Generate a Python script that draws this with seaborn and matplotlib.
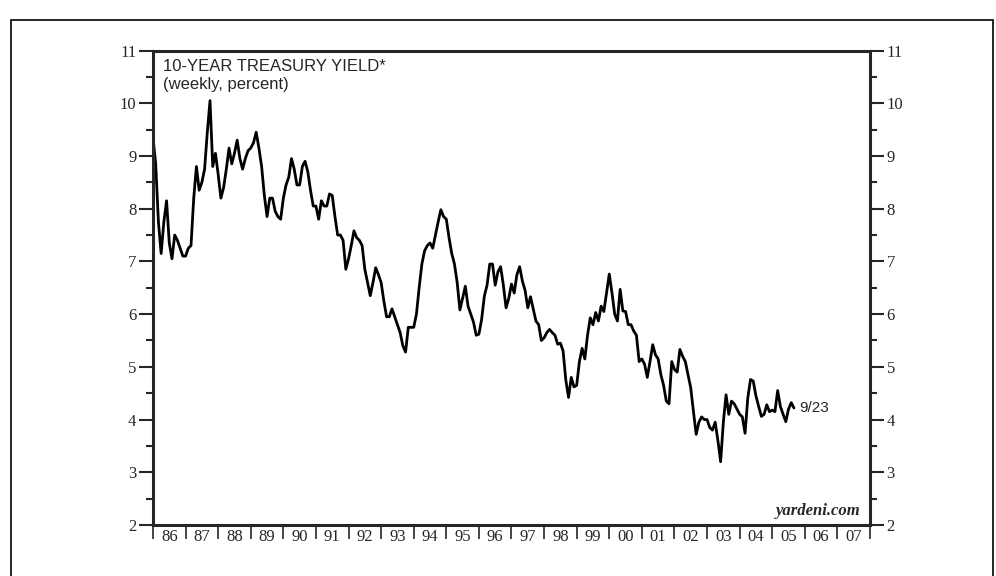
import numpy as np
import pandas as pd
import matplotlib
matplotlib.use("Agg")
import matplotlib.pyplot as plt
from matplotlib.patches import Rectangle
import seaborn as sns

sns.set_style("ticks")

# ----------------------------------------------------------------
# DATA: 10-year treasury yield (one value per month)
# ----------------------------------------------------------------
y1986 = [9.35, 8.85, 7.75, 7.15, 7.75, 8.15, 7.35, 7.05, 7.50, 7.40, 7.25, 7.10]
y1987 = [7.10, 7.25, 7.30, 8.20, 8.80, 8.35, 8.50, 8.75, 9.45, 10.05, 8.80, 9.05]
y1988 = [8.65, 8.20, 8.40, 8.75, 9.15, 8.85, 9.05, 9.30, 8.95, 8.75, 8.95, 9.10]
y1989 = [9.15, 9.25, 9.45, 9.15, 8.80, 8.25, 7.85, 8.20, 8.20, 7.95, 7.85, 7.80]
y1990 = [8.20, 8.45, 8.60, 8.95, 8.75, 8.45, 8.45, 8.80, 8.90, 8.70, 8.35, 8.05]
y1991 = [8.05, 7.80, 8.15, 8.05, 8.05, 8.28, 8.25, 7.85, 7.50, 7.50, 7.40, 6.85]
y1992 = [7.05, 7.30, 7.58, 7.45, 7.40, 7.30, 6.85, 6.60, 6.35, 6.60, 6.88, 6.75]
y1993 = [6.60, 6.25, 5.95, 5.95, 6.10, 5.95, 5.80, 5.65, 5.40, 5.28, 5.75, 5.75]
y1994 = [5.75, 6.00, 6.50, 6.95, 7.20, 7.30, 7.35, 7.25, 7.50, 7.75, 7.98, 7.85]
y1995 = [7.80, 7.45, 7.15, 6.95, 6.60, 6.08, 6.30, 6.53, 6.15, 6.00, 5.85, 5.60]
y1996 = [5.62, 5.90, 6.34, 6.55, 6.95, 6.95, 6.55, 6.80, 6.90, 6.55, 6.12, 6.30]
y1997 = [6.57, 6.40, 6.75, 6.90, 6.63, 6.45, 6.12, 6.33, 6.10, 5.87, 5.80, 5.50]
y1998 = [5.55, 5.65, 5.71, 5.65, 5.60, 5.43, 5.45, 5.30, 4.75, 4.42, 4.80, 4.62]
y1999 = [4.65, 5.10, 5.35, 5.15, 5.60, 5.93, 5.80, 6.03, 5.87, 6.15, 6.05, 6.40]
y2000 = [6.76, 6.40, 6.00, 5.87, 6.47, 6.06, 6.05, 5.80, 5.80, 5.68, 5.60, 5.10]
y2001 = [5.15, 5.05, 4.80, 5.10, 5.42, 5.23, 5.15, 4.85, 4.65, 4.35, 4.30, 5.10]
y2002 = [4.95, 4.90, 5.33, 5.20, 5.10, 4.85, 4.60, 4.15, 3.72, 3.95, 4.05, 4.00]
y2003 = [4.00, 3.85, 3.80, 3.95, 3.60, 3.20, 3.95, 4.47, 4.10, 4.35, 4.30, 4.20]
y2004 = [4.10, 4.05, 3.74, 4.41, 4.76, 4.73, 4.45, 4.25, 4.06, 4.10, 4.28, 4.15]
y2005 = [4.18, 4.15, 4.55, 4.25, 4.10, 3.96, 4.20, 4.32, 4.22]

start_year = 1986
year_labels = ["86", "87", "88", "89", "90", "91", "92", "93", "94", "95", "96",
               "97", "98", "99", "00", "01", "02", "03", "04", "05", "06", "07"]
y_ticks = [2, 3, 4, 5, 6, 7, 8, 9, 10, 11]

yields = (y1986 + y1987 + y1988 + y1989 + y1990 + y1991 + y1992 + y1993 + y1994
          + y1995 + y1996 + y1997 + y1998 + y1999 + y2000 + y2001 + y2002 + y2003
          + y2004 + y2005)
df = pd.DataFrame({"Yield": yields})
df["Year"] = start_year + np.arange(len(df)) / 12.0

# ----------------------------------------------------------------
# PLOT
# ----------------------------------------------------------------
fig = plt.figure(figsize=(9.96, 5.76), dpi=100)
ax = fig.add_axes([0.1536, 0.0885, 0.7199, 0.8238])

sns.lineplot(data=df, x="Year", y="Yield", ax=ax, color="black", linewidth=2.0)

ax.set_xlim(1986, 2008)
ax.set_ylim(2, 11)
ax.set_xlabel("")
ax.set_ylabel("")

for side in ["left", "right", "top", "bottom"]:
    ax.spines[side].set_visible(True)
    ax.spines[side].set_linewidth(2.2)

# y axis: labels on both sides, half-point minor ticks
ax.set_yticks(y_ticks)
ax.set_yticks(np.arange(2.5, 11, 1.0), minor=True)
ax.tick_params(axis="y", which="major", direction="out", length=10, width=1.5,
               left=True, right=True, labelleft=True, labelright=True, pad=2,
               labelsize=12)
ax.tick_params(axis="y", which="minor", direction="out", length=5, width=1.5,
               left=True, right=True)

# x axis: year boundary ticks, labels centered in each year
ax.set_xticks(np.arange(1986, 2009))
ax.set_xticklabels([])
ax.set_xticks(np.arange(1986.5, 2008, 1.0), minor=True)
ax.set_xticklabels(year_labels, minor=True)
ax.tick_params(axis="x", which="major", direction="out", length=10, width=1.2)
ax.tick_params(axis="x", which="minor", length=0, pad=3, labelsize=12)

for lbl in ax.get_yticklabels() + ax.get_xticklabels(minor=True):
    lbl.set_family("Liberation Serif")

ax.text(0.014, 0.982, "10-YEAR TREASURY YIELD*", transform=ax.transAxes,
        ha="left", va="top", fontsize=12, family="Liberation Sans")
ax.text(0.014, 0.945, "(weekly, percent)", transform=ax.transAxes,
        ha="left", va="top", fontsize=12, family="Liberation Sans")
ax.text(0.986, 0.013, "yardeni.com", transform=ax.transAxes, ha="right",
        va="bottom", fontsize=12, family="Liberation Serif",
        style="italic", weight="bold")
ax.text(df["Year"].iloc[-1] + 0.15, df["Yield"].iloc[-1], "9/23",
        ha="left", va="center", fontsize=11, family="Liberation Sans")

# outer frame around the whole figure
fig.patches.append(Rectangle((11 / 996, -0.1), 982 / 996, 1.1 - 20 / 576,
                             transform=fig.transFigure, fill=False,
                             edgecolor="black", linewidth=1.2))

plt.savefig("out.png", dpi=100)
plt.close()
